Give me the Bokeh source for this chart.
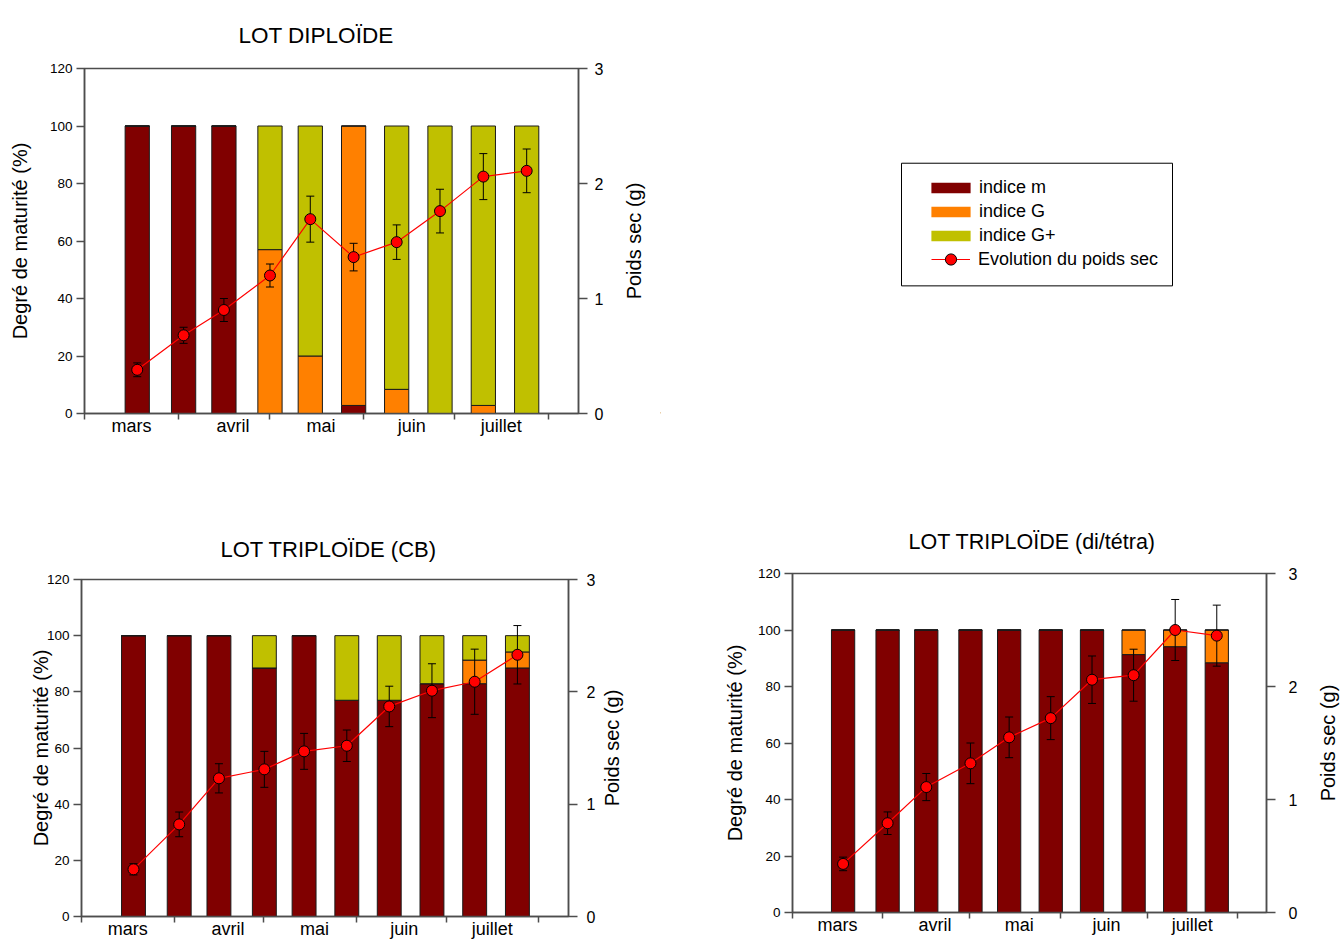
from bokeh.plotting import figure
from bokeh.models import (Range1d, LinearAxis, FixedTicker, ColumnDataSource, Whisker,
                          TeeHead, Legend, LegendItem, Title, BoxAnnotation, Label)
from bokeh.layouts import row, column
from bokeh.embed import file_html
from bokeh.resources import INLINE

# ---------------- data ----------------
# sampling dates, in days counted from 1 March
dates = [17.4, 32.7, 46.0, 61.2, 74.5, 88.8, 103.0, 117.3, 131.6, 145.9]
month_names = ["mars", "avril", "mai", "juin", "juillet"]
month_label_pos = [15.5, 49.0, 78.0, 108.0, 137.5]
month_starts = [0, 31, 61, 92, 122, 153]
left_ticks = [0, 20, 40, 60, 80, 100, 120]
right_ticks = [0, 1, 2, 3]

# LOT DIPLOÏDE
dip_m = [100, 100, 100, 0, 0, 2.8, 0, 0, 0, 0]
dip_G = [0, 0, 0, 57, 20, 97.2, 8.4, 0, 2.8, 0]
dip_Gp = [0, 0, 0, 43, 80, 0, 91.6, 100, 97.2, 100]
dip_poids = [0.38, 0.68, 0.90, 1.20, 1.69, 1.36, 1.49, 1.76, 2.06, 2.11]
dip_err = [0.06, 0.07, 0.10, 0.10, 0.20, 0.12, 0.15, 0.19, 0.20, 0.19]

# LOT TRIPLOÏDE (CB)
cb_m = [100, 100, 100, 88.5, 100, 77, 77, 82.9, 82.9, 88.5]
cb_G = [0, 0, 0, 0, 0, 0, 0, 0, 8.4, 5.7]
cb_Gp = [0, 0, 0, 11.5, 0, 23, 23, 17.1, 8.7, 5.8]
cb_poids = [0.42, 0.82, 1.23, 1.31, 1.47, 1.52, 1.87, 2.01, 2.09, 2.33]
cb_err = [0.05, 0.11, 0.13, 0.16, 0.16, 0.14, 0.18, 0.24, 0.29, 0.26]

# LOT TRIPLOÏDE (di/tétra)
dt_m = [100, 100, 100, 100, 100, 100, 100, 91.3, 94.1, 88.4]
dt_G = [0, 0, 0, 0, 0, 0, 0, 8.7, 5.9, 11.6]
dt_Gp = [0, 0, 0, 0, 0, 0, 0, 0, 0, 0]
dt_poids = [0.43, 0.79, 1.11, 1.32, 1.55, 1.72, 2.06, 2.10, 2.50, 2.45]
dt_err = [0.06, 0.10, 0.12, 0.18, 0.18, 0.19, 0.21, 0.23, 0.27, 0.27]

# ---------------- style ----------------
FONT = "Liberation Sans"
C_M, C_G, C_GP = "#800000", "#FF8000", "#C0C000"
AXC = "#4d4d4d"


def make_chart(title_text, title_offset, title_standoff, title_size,
               m, g, gp, poids, err, width, height, bl, br, bt, bb,
               left_std, right_lab_std):
    p = figure(width=width, height=height, output_backend="svg", toolbar_location=None,
               x_range=Range1d(0, 163), y_range=Range1d(0, 120),
               min_border_left=bl, min_border_right=br, min_border_top=bt,
               min_border_bottom=bb)
    p.extra_y_ranges = {"poids": Range1d(0, 3)}
    p.grid.visible = False
    p.outline_line_color = AXC
    p.outline_line_width = 1.5
    p.background_fill_color = "white"
    p.border_fill_color = "white"

    p.title = Title(text=title_text, align="left", offset=title_offset,
                    standoff=title_standoff, text_font=FONT, text_font_size=title_size,
                    text_font_style="normal", text_color="black")

    lo = [a - b for a, b in zip(poids, err)]
    hi = [a + b for a, b in zip(poids, err)]
    src = ColumnDataSource(dict(date=dates, m=m, g=g, gp=gp, poids=poids, lo=lo, hi=hi))

    p.vbar_stack(["m", "g", "gp"], x="date", width=8, source=src,
                 fill_color=[C_M, C_G, C_GP], line_color="#1a1a1a", line_width=1)

    w = Whisker(source=src, base="date", upper="hi", lower="lo", dimension="height",
                line_color="black", line_width=1, y_range_name="poids",
                upper_head=TeeHead(size=8, line_color="black", line_width=1),
                lower_head=TeeHead(size=8, line_color="black", line_width=1))
    w.level = "annotation"
    p.add_layout(w)

    ln = p.line("date", "poids", source=src, y_range_name="poids",
                line_color="#FF0000", line_width=1.2)
    ln.level = "overlay"
    dots = p.scatter("date", "poids", source=src, y_range_name="poids", size=11,
                     fill_color="#FF0000", line_color="black", line_width=1)
    dots.level = "overlay"

    # x axis: month boundaries as minor ticks, month names as labels
    xa = p.xaxis[0]
    xa.ticker = FixedTicker(ticks=month_label_pos, minor_ticks=month_starts)
    xa.major_label_overrides = {pos: name for pos, name in zip(month_label_pos, month_names)}
    xa.major_tick_out = 0
    xa.major_tick_in = 0
    xa.minor_tick_out = 6
    xa.minor_tick_in = 0
    xa.major_label_standoff = -4
    xa.major_label_text_font = FONT
    xa.major_label_text_font_size = "18px"
    xa.major_label_text_color = "black"
    xa.axis_line_color = AXC
    xa.axis_line_width = 1.5
    xa.major_tick_line_color = AXC
    xa.minor_tick_line_color = AXC
    xa.minor_tick_line_width = 1.5

    ya = p.yaxis[0]
    ya.ticker = FixedTicker(ticks=left_ticks)
    ya.major_tick_out = 8
    ya.major_tick_in = 0
    ya.minor_tick_out = 0
    ya.minor_tick_in = 0
    ya.major_label_standoff = 4
    ya.major_label_text_font = FONT
    ya.major_label_text_font_size = "13.5px"
    ya.major_label_text_color = "black"
    ya.axis_label = "Degré de maturité (%)"
    ya.axis_label_text_font = FONT
    ya.axis_label_text_font_size = "20px"
    ya.axis_label_text_font_style = "normal"
    ya.axis_label_text_color = "black"
    ya.axis_label_standoff = left_std
    ya.axis_line_color = AXC
    ya.axis_line_width = 1.5
    ya.major_tick_line_color = AXC
    ya.major_tick_line_width = 1.5

    ra = LinearAxis(y_range_name="poids", ticker=FixedTicker(ticks=right_ticks))
    ra.major_tick_out = 9
    ra.major_tick_in = 0
    ra.minor_tick_out = 0
    ra.minor_tick_in = 0
    ra.major_label_standoff = right_lab_std
    ra.major_label_text_font = FONT
    ra.major_label_text_font_size = "16px"
    ra.major_label_text_color = "black"
    ra.axis_line_color = AXC
    ra.axis_line_width = 1.5
    ra.major_tick_line_color = AXC
    ra.major_tick_line_width = 1.5
    p.add_layout(ra, "right")
    return p


def right_title(width, height, bt, bb, cx):
    """Narrow panel holding the right-axis title, reading bottom-to-top."""
    f = figure(width=width, height=height, output_backend="svg", toolbar_location=None,
               x_range=Range1d(0, width), y_range=Range1d(0, 1),
               min_border_left=0, min_border_right=0, min_border_top=bt, min_border_bottom=bb,
               x_axis_location=None, y_axis_location=None)
    f.outline_line_color = None
    f.grid.visible = False
    f.add_layout(Label(x=cx, y=0.5, text="Poids sec (g)", angle=90, angle_units="deg",
                       text_align="center", text_baseline="middle",
                       text_font=FONT, text_font_size="20px", text_color="black"))
    return f


p1 = make_chart("LOT DIPLOÏDE", 154, 41, "22.5px", dip_m, dip_G, dip_Gp, dip_poids, dip_err,
                618, 470, 84, 40, 67, 57, 16, 7)
t1 = right_title(42, 470, 67, 57, 15)
p2 = make_chart("LOT TRIPLOÏDE (CB)", 139, 36, "22px", cb_m, cb_G, cb_Gp, cb_poids, cb_err,
                598, 471, 81, 30, 109, 25, -8, 9)
t2 = right_title(102, 471, 109, 25, 13)
p3 = make_chart("LOT TRIPLOÏDE (di/tétra)", 116, 40, "21.5px", dt_m, dt_G, dt_Gp, dt_poids, dt_err,
                600, 471, 92, 32, 103, 29, 9, 13)
t3 = right_title(40, 471, 103, 29, 27)

# ---------------- legend panel ----------------
leg = figure(width=680, height=470, output_backend="svg", toolbar_location=None,
             x_range=Range1d(0, 680), y_range=Range1d(0, 346),
             min_border_left=0, min_border_right=0, min_border_top=67, min_border_bottom=57,
             x_axis_location=None, y_axis_location=None)
leg.outline_line_color = None
leg.grid.visible = False
r_m = leg.vbar(x=[-100], top=[1], width=1, fill_color=C_M, line_color=None)
r_g = leg.vbar(x=[-100], top=[1], width=1, fill_color=C_G, line_color=None)
r_gp = leg.vbar(x=[-100], top=[1], width=1, fill_color=C_GP, line_color=None)
r_ln = leg.line(x=[-100, -90], y=[1, 1], line_color="#FF0000", line_width=1.2)
r_dot = leg.scatter(x=[-100], y=[1], size=11, fill_color="#FF0000", line_color="black")

leg.add_layout(BoxAnnotation(left=241, right=512, bottom=128, top=251,
                             fill_alpha=0, line_color="black", line_alpha=1, line_width=1))

common = dict(label_text_font=FONT, label_text_font_size="18px", label_text_color="black",
              border_line_color=None, background_fill_alpha=0, padding=0, margin=0, spacing=3)
legend_bars = Legend(items=[LegendItem(label="indice m", renderers=[r_m]),
                            LegendItem(label="indice G", renderers=[r_g]),
                            LegendItem(label="indice G+", renderers=[r_gp])],
                     location=(266, 167), glyph_width=49, glyph_height=13, label_standoff=4,
                     **common)
legend_line = Legend(items=[LegendItem(label="Evolution du poids sec", renderers=[r_ln, r_dot])],
                     location=(271, 140), glyph_width=39, glyph_height=28, label_standoff=8,
                     **common)
leg.add_layout(legend_bars)
leg.add_layout(legend_line)

layout = column(row(p1, t1, leg), row(p2, t2, column(row(p3, t3))))

with open("out.html", "w") as f:
    f.write(file_html(layout, INLINE))
